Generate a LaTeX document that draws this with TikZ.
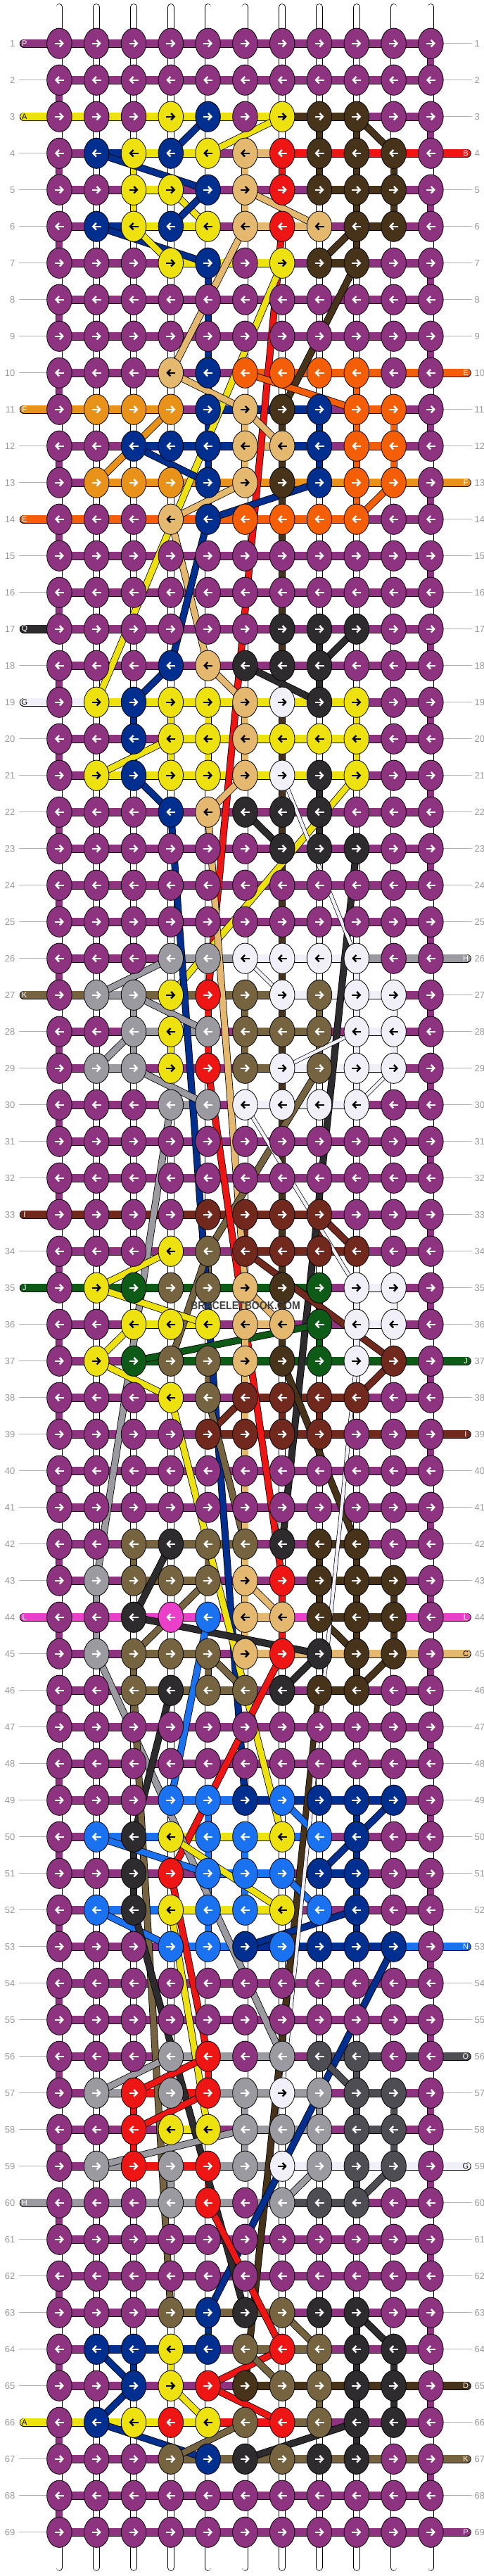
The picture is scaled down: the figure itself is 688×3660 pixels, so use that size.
\documentclass[tikz,border=0pt]{standalone}
\usepackage{fontspec}
\setmainfont{Liberation Sans}
\usetikzlibrary{shapes.geometric,arrows.meta}

\definecolor{cP}{HTML}{8E3380}
\definecolor{cY}{HTML}{EDE10F}
\definecolor{cB}{HTML}{012F90}
\definecolor{cT}{HTML}{E4B96F}
\definecolor{cR}{HTML}{EE1515}
\definecolor{cD}{HTML}{46331A}
\definecolor{cO}{HTML}{F35E06}
\definecolor{cF}{HTML}{E9921A}
\definecolor{cQ}{HTML}{2D2B2D}
\definecolor{cG}{HTML}{F1F0F8}
\definecolor{cH}{HTML}{9B9AA1}
\definecolor{cK}{HTML}{766340}
\definecolor{cM}{HTML}{72291D}
\definecolor{cN}{HTML}{0E5B17}
\definecolor{cS}{HTML}{EA3FC9}
\definecolor{cU}{HTML}{1B72F0}
\definecolor{cV}{HTML}{4E4D54}
% arrow colour on each knot colour
\colorlet{aP}{white}\colorlet{aY}{black}\colorlet{aB}{white}\colorlet{aT}{black}
\colorlet{aR}{white}\colorlet{aD}{white}\colorlet{aO}{white}\colorlet{aF}{white}
\colorlet{aQ}{white}\colorlet{aG}{black}\colorlet{aH}{white}\colorlet{aK}{white}
\colorlet{aM}{white}\colorlet{aN}{white}\colorlet{aS}{white}\colorlet{aU}{white}
\colorlet{aV}{white}

\def\nothread{-}
\def\purp{P}

% row / knot colours / cord colours (left end, 10 gaps, right end)
\def\rowdata{%
1/{P,P,P,P,P,P,P,P,P,P,P}/{P,P,P,P,P,P,P,P,P,P,P,-},
2/{P,P,P,P,P,P,P,P,P,P,P}/{-,P,P,P,P,P,P,P,P,P,P,-},
3/{P,P,P,Y,B,P,Y,D,D,P,P}/{Y,Y,Y,Y,Y,Y,Y,D,D,P,P,-},
4/{P,B,Y,B,Y,T,R,D,D,D,P}/{-,P,B,Y,Y,P,T,R,R,R,R,R},
5/{P,P,Y,Y,B,T,R,D,D,D,P}/{-,P,P,Y,P,P,P,P,D,D,P,-},
6/{P,B,Y,B,Y,T,R,T,D,D,P}/{-,P,B,Y,Y,P,T,T,P,D,P,-},
7/{P,P,P,Y,B,P,Y,D,D,P,P}/{-,P,P,P,Y,Y,Y,P,D,P,P,-},
8/{P,P,P,P,P,P,P,P,P,P,P}/{-,P,P,P,P,P,P,P,P,P,P,-},
9/{P,P,P,P,P,P,P,P,P,P,P}/{-,P,P,P,P,P,P,P,P,P,P,-},
10/{P,P,P,T,B,O,O,O,O,P,P}/{-,P,P,P,P,P,O,O,O,O,O,O},
11/{P,F,F,F,B,T,D,B,O,O,P}/{F,F,F,F,P,B,B,B,P,O,P,-},
12/{P,P,B,B,B,T,T,B,O,O,P}/{-,P,P,B,B,B,T,B,P,O,P,-},
13/{P,F,F,F,B,T,D,B,O,O,P}/{-,P,F,F,F,F,F,F,F,F,F,F},
14/{P,P,P,T,B,O,O,O,O,P,P}/{O,O,O,O,O,O,O,O,O,P,P,-},
15/{P,P,P,P,P,P,P,P,P,P,P}/{-,P,P,P,P,P,P,P,P,P,P,-},
16/{P,P,P,P,P,P,P,P,P,P,P}/{-,P,P,P,P,P,P,P,P,P,P,-},
17/{P,P,P,P,P,P,Q,Q,Q,P,P}/{Q,P,P,P,P,P,P,P,P,P,P,-},
18/{P,P,P,B,T,Q,Q,Q,P,P,P}/{-,P,P,P,P,P,P,P,P,P,P,-},
19/{P,Y,B,Y,Y,T,G,Q,Y,P,P}/{G,G,Y,Y,Y,Y,Y,Y,Y,P,P,-},
20/{P,P,B,Y,Y,T,Y,Y,Y,P,P}/{-,P,P,P,Y,Y,Y,Y,Y,P,P,-},
21/{P,Y,B,Y,Y,T,G,Q,Y,P,P}/{-,P,Y,Y,Y,Y,Y,Y,Y,P,P,-},
22/{P,P,P,B,T,Q,Q,Q,P,P,P}/{-,P,P,P,P,P,P,P,P,P,P,-},
23/{P,P,P,P,P,P,Q,Q,Q,P,P}/{-,P,P,P,P,P,P,P,P,P,P,-},
24/{P,P,P,P,P,P,P,P,P,P,P}/{-,P,P,P,P,P,P,P,P,P,P,-},
25/{P,P,P,P,P,P,P,P,P,P,P}/{-,P,P,P,P,P,P,P,P,P,P,-},
26/{P,P,P,H,H,G,G,G,G,P,P}/{-,P,P,P,H,H,G,G,G,H,H,H},
27/{P,H,H,Y,R,K,G,K,G,G,P}/{K,K,H,K,K,K,K,G,G,G,P,-},
28/{P,P,H,Y,H,K,K,K,G,G,P}/{-,P,P,H,H,P,K,K,P,G,P,-},
29/{P,H,H,Y,R,K,G,K,G,G,P}/{-,P,H,P,P,P,K,G,G,G,P,-},
30/{P,P,P,H,H,G,G,G,G,P,P}/{-,P,P,P,H,P,G,G,G,P,P,-},
31/{P,P,P,P,P,P,P,P,P,P,P}/{-,P,P,P,P,P,P,P,P,P,P,-},
32/{P,P,P,P,P,P,P,P,P,P,P}/{-,P,P,P,P,P,P,P,P,P,P,-},
33/{P,P,P,P,M,M,M,M,P,P,P}/{M,M,M,M,M,M,M,M,P,P,P,-},
34/{P,P,P,Y,K,M,M,M,M,P,P}/{-,P,P,P,P,P,M,M,M,P,P,-},
35/{P,Y,N,K,K,T,D,N,G,G,P}/{N,N,N,N,N,N,N,N,P,G,P,-},
36/{P,P,Y,Y,Y,T,T,N,G,G,P}/{-,P,P,Y,Y,P,T,P,P,G,P,-},
37/{P,Y,N,K,K,T,D,N,G,M,P}/{-,P,P,N,N,N,N,N,N,N,N,N},
38/{P,P,P,Y,K,M,M,M,M,P,P}/{-,P,P,P,P,P,M,M,M,P,P,-},
39/{P,P,P,P,M,M,M,M,P,P,P}/{-,P,P,P,P,M,M,M,M,M,M,M},
40/{P,P,P,P,P,P,P,P,P,P,P}/{-,P,P,P,P,P,P,P,P,P,P,-},
41/{P,P,P,P,P,P,P,P,P,P,P}/{-,P,P,P,P,P,P,P,P,P,P,-},
42/{P,P,K,Q,K,K,Q,D,D,P,P}/{-,P,P,K,K,K,P,P,D,P,P,-},
43/{P,H,K,K,K,T,R,D,D,D,P}/{-,P,P,K,K,P,P,P,D,D,P,-},
44/{P,P,Q,S,U,T,T,D,D,D,P}/{S,S,S,S,S,S,T,S,D,D,S,S},
45/{P,H,K,K,K,T,R,Q,D,D,P}/{-,P,P,K,K,P,T,T,T,T,T,T},
46/{P,P,K,Q,K,K,Q,D,D,P,P}/{-,P,P,K,K,K,P,P,D,P,P,-},
47/{P,P,P,P,P,P,P,P,P,P,P}/{-,P,P,P,P,P,P,P,P,P,P,-},
48/{P,P,P,P,P,P,P,P,P,P,P}/{-,P,P,P,P,P,P,P,P,P,P,-},
49/{P,P,P,U,U,B,U,B,B,B,P}/{-,P,P,P,U,U,B,B,B,B,P,-},
50/{P,U,Q,Y,U,U,Y,U,B,P,P}/{-,P,U,U,Y,Y,Y,U,P,P,P,-},
51/{P,P,Q,R,U,U,U,B,B,P,P}/{-,P,P,P,P,U,U,P,B,P,P,-},
52/{P,U,Q,Y,U,U,Y,U,B,P,P}/{-,P,U,U,Y,Y,Y,P,P,P,P,-},
53/{P,P,P,U,U,B,U,B,B,B,P}/{-,P,P,P,U,U,B,B,B,B,U,U},
54/{P,P,P,P,P,P,P,P,P,P,P}/{-,P,P,P,P,P,P,P,P,P,P,-},
55/{P,P,P,P,P,P,P,P,P,P,P}/{-,P,P,P,P,P,P,P,P,P,P,-},
56/{P,P,P,H,R,P,H,V,V,P,P}/{-,P,P,P,H,H,H,P,V,V,V,V},
57/{P,H,R,H,R,H,G,H,V,V,P}/{-,P,H,R,R,H,H,H,P,V,P,-},
58/{P,P,R,Y,Y,H,H,H,V,V,P}/{-,P,P,P,Y,P,H,H,P,V,P,-},
59/{P,H,R,H,R,H,G,H,V,V,P}/{-,P,H,R,R,H,H,G,G,G,G,G},
60/{P,P,P,H,R,P,H,V,V,P,P}/{H,H,H,H,H,H,H,V,V,P,P,-},
61/{P,P,P,P,P,P,P,P,P,P,P}/{-,P,P,P,P,P,P,P,P,P,P,-},
62/{P,P,P,P,P,P,P,P,P,P,P}/{-,P,P,P,P,P,P,P,P,P,P,-},
63/{P,P,P,K,B,Q,K,Q,Q,P,P}/{-,P,P,P,K,K,K,P,P,P,P,-},
64/{P,B,B,Y,B,K,R,K,Q,Q,P}/{-,P,B,B,B,P,K,K,P,P,P,-},
65/{P,P,B,Y,R,D,K,K,Q,Q,P}/{-,P,P,P,P,P,D,D,D,D,D,D},
66/{P,B,Y,R,Y,K,R,K,Q,Q,P}/{Y,Y,Y,Y,Y,R,R,K,P,P,P,-},
67/{P,P,P,K,B,Q,K,Q,Q,P,P}/{-,P,P,P,K,K,K,K,K,K,K,K},
68/{P,P,P,P,P,P,P,P,P,P,P}/{-,P,P,P,P,P,P,P,P,P,P,-},
69/{P,P,P,P,P,P,P,P,P,P,P}/{-,P,P,P,P,P,P,P,P,P,P,P}}

\tikzset{
  knot/.style={ellipse, draw=black, line width=0.8pt, minimum width=35.5pt,
    minimum height=43.3pt, inner sep=0pt},
  kar/.style={line width=2.4pt, -{Straight Barb[length=4.5pt,width=9.5pt]}},
  cord/.style={draw=black, line width=0.8pt, double distance=10.5pt},
  thr/.style={draw=black, line width=0.8pt, double distance=8.5pt},
  thin thr/.style={draw=black, line width=0.7pt, double distance=4.5pt},
  base/.style={draw=black, line width=0.8pt, double=white, double distance=8pt, line cap=round},
  rownum/.style={text=black!40, font=\fontsize{13}{13}\selectfont, inner sep=0pt},
  rowline/.style={draw=black!30, line width=0.9pt},
  tag/.style={font=\fontsize{11}{11}\selectfont, inner sep=0pt}
}

\begin{document}
\begin{tikzpicture}[x=1pt,y=-1pt]
\fill[white] (0,0) rectangle (688,3660);
\useasboundingbox (0,0) rectangle (688,3660);

% grid points, row numbers, cord ends
\foreach \r in {1,...,69}{
  \foreach \c in {1,...,11}
    \coordinate (p-\r-\c) at ({84.4+(\c-1)*52.8},{61.7+(\r-1)*52});
  \node[rownum, anchor=east] (nl-\r) at (21.5,{61.7+(\r-1)*52}) {\r};
  \node[rownum, anchor=west] (nr-\r) at (674.5,{61.7+(\r-1)*52}) {\r};
  \coordinate (el-\r) at (33.8,{61.7+(\r-1)*52});
  \coordinate (er-\r) at (663.7,{61.7+(\r-1)*52});
}
\foreach \c in {1,...,11}{
  \coordinate (st-\c) at ({84.4+(\c-1)*52.8},10);
  \coordinate (sb-\c) at ({84.4+(\c-1)*52.8},3648);
}

% remember knot colours
\foreach \r/\ks/\bs in \rowdata
  \foreach \k [count=\c] in \ks
    {\expandafter\xdef\csname kc-\r-\c\endcsname{\k}}

% base strings
\foreach \c in {1,...,11}
  \draw[base] (st-\c) -- (sb-\c);

% vertical pieces between rows
\foreach \r in {1,...,68}{
  \pgfmathtruncatemacro\rn{\r+1}
  \foreach \c in {1,...,11}{
    \edef\ka{\csname kc-\r-\c\endcsname}
    \edef\kb{\csname kc-\rn-\c\endcsname}
    \ifx\ka\kb\ifx\ka\purp\else
      \draw[thr, double=c\ka] (p-\r-\c) -- (p-\rn-\c);
    \fi\fi
  }
  \pgfmathtruncatemacro\side{mod(\r,2)==1 ? 11 : 1}
  \draw[thr, double=cP] (p-\r-\side) -- (p-\rn-\side);
}

% row cords
\foreach \r/\ks/\bs in \rowdata{
  \foreach \b [count=\j] in \bs{
    \edef\bb{\b}
    \ifnum\j=1
      \ifx\bb\nothread
        \draw[rowline] ([xshift=5pt]nl-\r.east) -- (p-\r-1);
      \else
        \draw[cord, double=c\bb, line cap=round] (el-\r) -- (p-\r-1);
      \fi
    \else\ifnum\j=12
      \ifx\bb\nothread
        \draw[rowline] (p-\r-11) -- ([xshift=-4pt]nr-\r.west);
      \else
        \draw[cord, double=c\bb, line cap=round] (p-\r-11) -- (er-\r);
      \fi
    \else
      \pgfmathtruncatemacro\ca{\j-1}
      \draw[cord, double=c\bb] (p-\r-\ca) -- (p-\r-\j);
    \fi\fi
  }
}

% threads running behind the knots
\foreach \col/\ra/\ca/\rb/\cb in {B/3/5/4/4, Y/3/7/4/5, D/3/9/4/10, B/4/2/5/5,
  Y/5/4/6/5, B/5/5/6/4, T/5/6/6/8, B/6/2/7/5, Y/6/3/7/4, D/6/9/7/8, T/6/6/10/4,
  R/6/7/27/5, Y/7/7/19/2, D/7/9/11/7, B/7/5/10/5, T/10/4/11/6, O/10/6/11/9,
  F/11/4/13/2, T/11/6/12/7, B/12/3/13/5, T/13/6/14/4, B/13/8/14/5, O/13/10/14/9,
  T/14/4/18/5, B/14/5/18/4, D/11/7/37/7, Q/17/9/18/8, Q/18/6/19/8, B/18/4/19/3,
  T/18/5/19/6, Y/20/4/21/2, B/21/3/22/4, Y/21/9/27/4, T/21/6/22/5, T/22/5/35/6,
  B/22/4/49/6, Q/22/6/23/7, Q/23/9/42/7, H/26/4/27/2, H/27/3/28/5, H/28/3/29/2,
  H/29/3/30/5, K/29/8/34/5, H/30/4/43/2, R/27/5/29/5, R/29/5/43/7, M/33/8/34/9,
  M/34/6/37/10, K/34/5/37/4, Y/34/4/35/2, Y/35/2/36/5, Y/36/3/37/2, Y/37/2/38/4,
  Y/38/4/50/7, N/36/8/37/3, M/37/10/38/9, M/38/6/39/5, K/38/5/42/6, T/35/6/36/7,
  T/35/6/43/6, D/37/7/42/9, Q/42/4/44/3, K/43/5/45/3, T/43/6/44/7, Q/44/3/45/8,
  U/44/5/49/4, K/45/5/46/6, R/45/7/51/4, Q/45/8/46/7, D/44/8/45/9, D/45/10/46/9,
  H/43/2/45/2, R/43/7/45/7, H/45/2/56/7, Q/46/4/50/3, K/46/3/63/4, D/46/8/65/6,
  U/49/7/50/8, U/51/7/52/8, B/49/10/51/8, U/50/2/51/5, Y/50/4/52/7, U/52/2/53/4,
  B/52/9/53/6, Y/52/4/58/5, B/53/10/63/5, R/51/4/56/5, Q/52/3/63/6, H/56/4/57/2,
  R/56/5/57/3, R/57/5/58/3, V/56/8/57/9, H/58/6/59/2, H/59/8/60/7, V/59/10/60/9,
  R/60/5/64/7, K/63/7/64/8, Q/63/9/64/10, B/64/2/65/3, R/64/7/65/5, K/64/6/65/7,
  B/65/3/66/2, Y/65/4/66/5, R/65/5/66/7, B/66/2/67/5, K/66/6/67/4, Q/66/9/67/6}
  \draw[thr, double=c\col] (p-\ra-\ca) -- (p-\rb-\cb);
\foreach \ra/\ca/\rb/\cb in {21/7/26/9, 26/6/27/7, 28/9/29/7, 29/10/30/9,
  30/6/35/9, 37/9/57/7}
  \draw[thin thr, double=cG] (p-\ra-\ca) -- (p-\rb-\cb);

% knots
\foreach \r/\ks/\bs in \rowdata{
  \foreach \k [count=\c] in \ks{
    \node[knot, fill=c\k] (k-\r-\c) at (p-\r-\c) {};
    \ifodd\r\relax
      \draw[kar, draw=a\k] ([xshift=-6.5pt]k-\r-\c.center) -- ([xshift=6.5pt]k-\r-\c.center);
    \else
      \draw[kar, draw=a\k] ([xshift=6.5pt]k-\r-\c.center) -- ([xshift=-6.5pt]k-\r-\c.center);
    \fi
  }
}

% letters at the cord ends
\foreach \rr/\sd/\lt/\tc in {1/l/P/white, 3/l/A/black, 4/r/B/white, 10/r/E/white,
  11/l/F/white, 13/r/F/white, 14/l/E/white, 17/l/Q/white, 19/l/G/black,
  26/r/H/white, 27/l/K/white, 33/l/I/white, 35/l/J/white, 37/r/J/white,
  39/r/I/white, 44/l/L/white, 44/r/L/white, 45/r/C/black, 53/r/N/white,
  56/r/O/white, 59/r/G/black, 60/l/H/white, 65/r/D/white, 66/l/A/black,
  67/r/K/white, 69/r/P/white}
  \node[tag, text=\tc] (tg-\sd-\rr) at ([xshift=\if l\sd 1pt\else -1.7pt\fi]e\sd-\rr) {\lt};

\node[font=\fontsize{16}{16}\selectfont\bfseries, text=black!75, xscale=0.88] (wm) at (349,1855) {BRACELETBOOK.COM};
\end{tikzpicture}
\end{document}
